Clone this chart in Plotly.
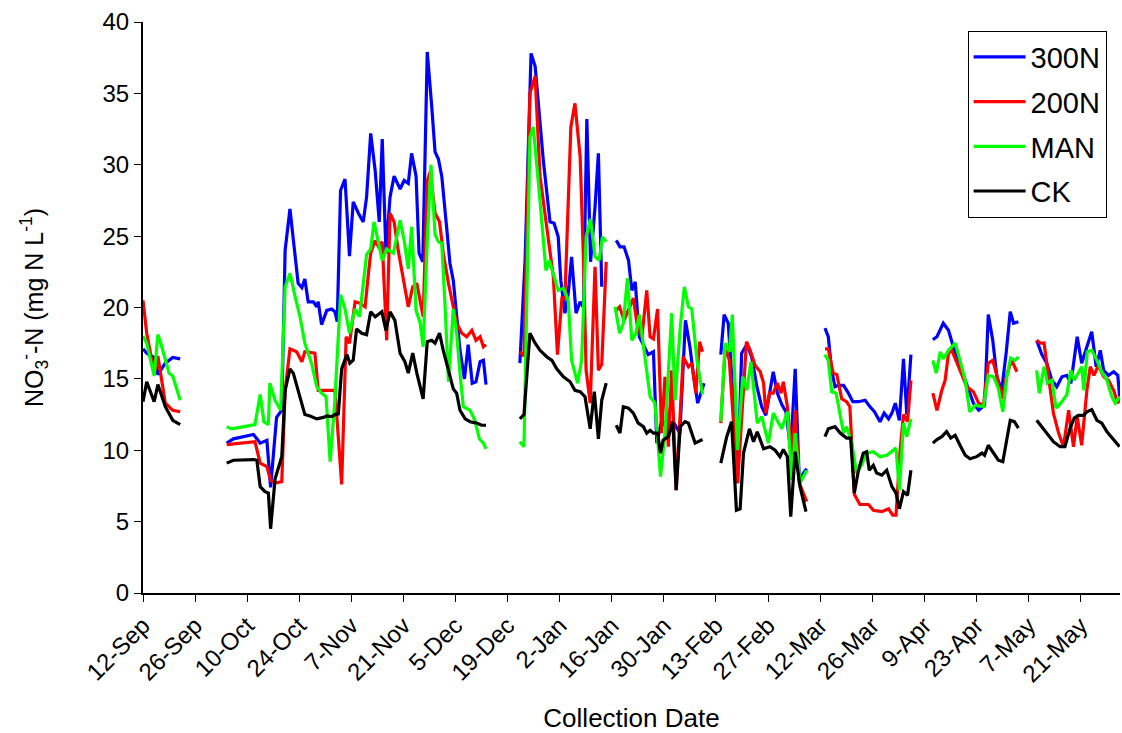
import plotly.graph_objects as go

# x values: days after 12-Sep (start of season); None marks a gap between sampling periods
tick_days = [0, 14, 28, 42, 56, 70, 84, 98, 112, 126, 140, 154, 168, 182, 196, 210, 224, 238, 252]
tick_labels = ["12-Sep", "26-Sep", "10-Oct", "24-Oct", "7-Nov", "21-Nov", "5-Dec", "19-Dec",
               "2-Jan", "16-Jan", "30-Jan", "13-Feb", "27-Feb", "12-Mar", "26-Mar", "9-Apr",
               "23-Apr", "7-May", "21-May"]

n300_x = [0, 1, 3, 4, 6, 8, 10, None,
          22.5, 24.3, 29.7, 31.5, 33.3, 34.3, 35.9, 37.3, 38.2, 39.5, 41.7, 42.7, 43.5, 44.4, 45.8, 46.7, 47.1, 48.0,
          49.4, 50.7, 51.6, 52.2, 53.1, 54.3, 55.5, 56.5, 57.9, 59.2, 60.1, 61.2, 62.4, 63.5, 64.3, 65.3, 66.4, 67.5,
          69.1, 70.2, 71.3, 72.2, 73.4, 74.2, 75.2, 76.4, 77.6, 78.5, 79.4, 80.3, 81.6, 82.5, 83.4, 84.3, 85.2, 86.4,
          87.4, 88.5, 89.5, 90.6, 91.5, 92.2, None,
          101.3, 102.7, 104.3, 105.4, 107.6, 109.4, 110.5, 111.6, 112.3, 113.4, 114.3, 115.2, 116.4, 117.5, 118.4,
          119.3, 120.3, 121.5, 122.4, 123.3, None,
          127.2, 128.2, 129.3, 130.5, 131.4, 132.3, 133.4, 135.8, 137.2, 138.1, 139.4, 141.0, 142.5, 144.3, 145.8,
          147.0, 147.9, 149.1, 150.8, None,
          155.3, 156.2, 157.3, 158.6, 159.8, 160.9, 162.3, 163.6, 165.0, 166.3, 167.4, 168.5, 169.4, 170.5, 171.7,
          172.8, 174.1, 175.3, 176.4, 177.5, 178.4, None,
          183.3, 184.2, 185.1, 186.0, 186.9, 188.3, 189.6, 190.8, 192.3, 194.1, 195.4, 196.6, 198.1, 199.2, 200.4,
          201.3, 202.2, 203.3, 204.4, 205.3, 206.4, None,
          212.3, 213.4, 215.1, 216.5, 217.8, 219.2, 221.0, 222.3, 223.2, 224.6, 226.2, 227.2, 228.4, 229.5, 230.8,
          232.0, 233.1, 234.0, 235.3, None,
          240.2, 241.6, 242.9, 244.3, 245.6, 247.0, 248.3, 249.4, 251.1, 252.3, 253.7, 255.0, 256.2, 257.3, 258.2,
          259.5, 260.9, 262.0, 262.5]
n300_y = [17.1, 16.8, 16.5, 15.3, 16.1, 16.5, 16.4, None,
          10.5, 10.8, 11.1, 10.5, 10.7, 7.4, 12.3, 12.8, 24.0, 26.9, 21.7, 21.4, 22.0, 20.4, 20.4, 20.05, 20.4, 18.8,
          19.8, 19.9, 19.7, 19.0, 28.2, 29.0, 23.6, 27.4, 26.6, 26.0, 27.75, 32.2, 29.6, 26.0, 31.8, 23.8, 27.75, 29.2,
          28.3, 28.9, 28.7, 30.8, 29.2, 23.8, 23.2, 37.9, 34.1, 30.9, 30.4, 29.2, 25.65, 23.1, 21.9, 19.6, 17.0, 15.0,
          17.4, 14.7, 14.8, 16.2, 16.3, 14.6, None,
          16.1, 23.3, 37.8, 36.9, 30.3, 26.0, 25.9, 24.95, 21.9, 19.6, 21.0, 23.55, 19.6, 20.4, 20.0,
          33.2, 23.2, 27.05, 30.8, 21.45, None,
          24.7, 24.25, 24.25, 23.3, 21.2, 21.8, 17.95, 16.7, 16.9, 10.5, 12.1, 11.5, 12.0, 11.2, 19.1,
          17.25, 15.4, 13.3, 14.7, None,
          16.7, 19.5, 18.9, 13.75, 7.7, 16.8, 17.4, 16.55, 14.45, 13.05, 12.45, 14.2, 15.5, 14.0, 13.2,
          12.7, 10.0, 15.7, 7.9, 8.4, 8.7, None,
          18.55, 17.95, 15.6, 14.45, 14.55, 14.55, 14.0, 13.4, 13.4, 13.5, 13.05, 12.7, 12.0, 12.6, 12.2,
          12.6, 13.3, 12.1, 16.4, 12.5, 16.7, None,
          17.75, 17.95, 18.9, 18.4, 17.25, 16.1, 14.9, 14.0, 13.3, 12.8, 13.15, 19.5, 17.7, 15.15, 14.2,
          16.8, 19.7, 18.9, 19.0, None,
          17.7, 16.7, 16.1, 14.9, 14.45, 15.15, 15.25, 14.7, 17.95, 16.1, 17.25, 18.3, 15.85, 17.0, 15.6,
          15.25, 15.5, 15.25, 13.75]

n200_x = [0, 1, 3, 4, 6, 8, 10, None,
          22.5, 26.1, 30.1, 31.5, 33.3, 34.3, 35.5, 37.3, 38.2, 39.5, 41.3, 42.7, 43.5, 46.2, 47.1, 48.5, 51.6, 53.4,
          54.6, 55.5, 57.0, 58.3, 59.7, 60.6, 61.2, 62.4, 63.3, 64.3, 65.5, 66.4, 67.5, 68.6, 70.0, 71.3, 72.5, 73.6,
          75.3, 76.4, 77.2, 78.5, 79.7, 80.7, 82.1, 83.4, 84.3, 85.7, 87.0, 88.4, 89.5, 90.6, 91.5, 92.2, None,
          101.3, 102.4, 104.0, 105.4, 106.7, 108.5, 110.3, 111.4, 112.6, 113.4, 115.0, 116.1, 117.5, 118.4, 119.1,
          120.2, 121.5, 122.4, 123.3, 124.5, None,
          126.9, 128.1, 129.3, 131.8, 132.9, 134.1, 135.4, 136.3, 137.2, 138.3, 139.4, 140.3, 141.2, 142.1, 143.3,
          144.4, 145.2, 146.6, 147.5, 148.6, 149.6, 150.4, None,
          155.3, 156.5, 157.6, 159.8, 160.5, 162.2, 163.2, 164.5, 165.9, 166.8, 167.4, 168.4, 169.4, 170.5, 171.5,
          172.1, 173.2, 174.4, 175.3, 176.4, 178.4, None,
          183.3, 184.2, 185.5, 186.5, 187.8, 189.1, 190.0, 191.2, 192.7, 195.0, 196.3, 198.6, 200.4, 201.5, 202.4,
          203.5, 204.4, 205.5, 206.4, None,
          212.3, 213.4, 214.7, 215.6, 216.5, 217.4, 219.2, 221.4, 223.2, 224.6, 225.9, 227.2, 228.4, 229.5, 230.8,
          232.3, 233.5, 234.9, None,
          240.2, 241.3, 242.2, 243.4, 244.7, 246.1, 247.4, 248.8, 250.1, 251.1, 252.3, 253.7, 254.6, 255.6, 256.8,
          258.2, 259.5, 260.9, 262.0, 262.5]
n200_y = [20.5, 18.2, 15.4, 16.6, 13.3, 12.8, 12.7, None,
          10.4, 10.5, 10.6, 9.1, 8.85, 7.9, 7.7, 7.8, 14.2, 17.1, 16.9, 16.2, 16.9, 16.8, 14.2, 14.2, 14.2, 7.6,
          17.95, 17.5, 20.4, 20.3, 20.05, 22.4, 23.8, 24.7, 24.25, 24.6, 17.7, 26.6, 26.0, 24.0, 21.9, 20.05, 21.45, 21.7,
          19.35, 28.9, 29.5, 26.6, 26.0, 23.8, 21.7, 20.05, 18.9, 18.2, 17.95, 18.4, 17.7, 17.95, 17.25, 17.4, None,
          16.9, 16.6, 35.0, 36.2, 29.2, 25.65, 22.15, 16.7, 20.65, 20.65, 32.65, 34.3, 30.55, 23.3, 15.6,
          13.3, 22.85, 15.6, 16.0, 23.2, None,
          19.7, 20.05, 19.1, 20.65, 18.65, 17.95, 21.2, 17.95, 17.8, 19.9, 11.2, 15.15, 10.25, 15.6, 7.2,
          13.05, 16.55, 15.85, 16.1, 14.0, 17.6, 16.9, None,
          11.9, 17.25, 16.3, 7.7, 10.5, 17.6, 17.0, 15.95, 15.5, 14.7, 12.6, 14.0, 14.0, 14.7, 14.0,
          14.8, 13.05, 9.55, 12.8, 7.7, 6.4, None,
          17.1, 17.1, 15.4, 15.3, 13.6, 13.4, 13.05, 6.9, 6.2, 6.2, 5.8, 5.7, 5.9, 5.45, 5.45,
          10.0, 12.5, 12.0, 14.9, None,
          14.0, 12.8, 14.2, 14.9, 16.8, 17.0, 15.85, 14.45, 14.1, 13.3, 13.15, 16.1, 16.3, 15.25, 13.6,
          15.4, 16.3, 15.5, None,
          17.7, 17.5, 17.5, 15.15, 12.6, 11.2, 10.25, 12.8, 10.25, 12.35, 10.35, 14.2, 15.85, 15.25, 15.95,
          15.15, 14.9, 14.2, 13.3, 13.6]

man_x = [0, 1, 3, 4, 5, 7, 8, 10, None,
         22.5, 23.8, 26.1, 30.1, 31.5, 32.5, 33.7, 34.1, 35.5, 37.0, 38.2, 39.5, 40.9, 42.2, 43.5, 45.3, 46.7, 48.0,
         49.2, 50.3, 51.6, 53.1, 54.3, 55.5, 57.0, 58.2, 60.1, 61.2, 62.1, 63.3, 64.3, 65.5, 67.3, 69.1, 70.2, 71.3,
         72.2, 73.4, 74.5, 75.3, 76.4, 77.4, 78.5, 79.4, 80.3, 81.2, 82.1, 83.4, 84.3, 85.2, 86.1, 87.9, 89.2, 90.4,
         91.5, 92.2, None,
         101.3, 102.4, 104.0, 104.9, 106.7, 108.3, 109.2, 111.6, 113.0, 114.3, 115.2, 116.8, 117.9, 119.1, 120.3,
         121.5, 122.6, 123.5, 124.5, None,
         126.9, 128.1, 129.1, 130.2, 131.4, 132.5, 133.4, 136.3, 137.6, 139.1, 140.3, 141.2, 142.1, 143.0, 144.4,
         145.5, 146.6, 147.5, 148.9, 150.4, None,
         155.3, 156.5, 157.6, 158.4, 159.8, 161.2, 162.3, 163.4, 165.1, 166.3, 168.1, 169.4, 171.7, 173.2, 174.4,
         175.3, 176.6, 178.4, None,
         183.3, 184.2, 185.1, 186.3, 188.3, 189.1, 190.5, 191.8, 193.1, 194.5, 196.3, 198.1, 199.9, 201.3, 202.4,
         203.3, 204.4, 205.3, 206.4, None,
         212.3, 213.2, 214.3, 215.1, 216.5, 218.3, 219.6, 221.0, 222.2, 223.7, 225.9, 227.2, 228.6, 229.9, 231.1,
         232.2, 233.2, 234.4, 235.3, None,
         240.2, 240.9, 242.2, 243.1, 244.3, 245.4, 246.7, 248.3, 249.4, 250.3, 252.3, 252.9, 253.8, 255.0, 256.4,
         257.7, 259.1, 260.4, 261.3, 262.5]
man_y = [18.0, 17.5, 15.2, 18.1, 17.3, 15.4, 15.2, 13.5, None,
         11.65, 11.5, 11.6, 11.8, 13.9, 12.0, 11.8, 14.7, 13.5, 12.8, 21.45, 22.4, 20.75, 19.35, 17.5, 16.1, 14.45, 14.0,
         13.75, 9.2, 13.6, 20.9, 19.9, 18.2, 19.9, 19.35, 23.7, 24.1, 26.0, 24.5, 23.3, 24.1, 23.8, 26.1, 24.7, 22.7,
         25.65, 19.8, 18.9, 17.25, 24.7, 30.0, 25.1, 24.6, 24.5, 20.05, 14.8, 19.9, 18.2, 15.4, 13.05, 12.8, 12.1, 10.8,
         10.5, 10.1, None,
         10.6, 10.25, 31.95, 32.65, 27.5, 22.6, 23.3, 21.2, 21.35, 20.5, 16.3, 14.7, 16.3, 24.95, 26.2,
         23.55, 23.3, 24.95, 24.6, None,
         20.05, 18.2, 18.9, 22.05, 17.7, 18.2, 19.5, 13.75, 13.3, 8.15, 11.2, 15.4, 19.6, 13.5, 18.65,
         21.45, 20.05, 19.9, 16.3, 13.9, None,
         12.0, 17.5, 16.9, 19.5, 10.0, 15.15, 14.2, 16.2, 11.9, 12.35, 10.5, 12.6, 11.5, 12.7, 7.9,
         11.2, 7.7, 8.6, None,
         16.7, 16.3, 14.1, 14.0, 11.2, 11.65, 10.5, 8.4, 8.95, 9.8, 9.9, 9.55, 9.65, 9.9, 10.15,
         7.2, 11.9, 10.95, 12.2, None,
         16.3, 15.4, 16.9, 16.4, 17.0, 17.5, 16.3, 14.9, 12.7, 13.15, 13.05, 15.25, 15.15, 14.35, 12.7,
         15.15, 16.45, 16.3, 16.55, None,
         15.6, 14.0, 15.85, 14.7, 14.9, 12.95, 13.3, 13.9, 15.6, 14.9, 15.85, 14.2, 16.9, 17.0, 16.3,
         15.5, 14.9, 13.75, 13.3, 13.75]

ck_x = [0, 1, 3, 4, 6, 8, 10, None,
        22.5, 24.3, 29.7, 30.6, 31.5, 32.8, 33.7, 34.3, 35.5, 37.3, 38.2, 39.5, 40.4, 42.2, 43.5, 44.9, 46.7, 48.5,
        49.4, 50.7, 51.6, 52.5, 53.4, 54.8, 55.6, 56.5, 57.4, 58.8, 60.1, 61.2, 62.4, 64.2, 65.3, 66.4, 67.7, 69.1,
        70.4, 71.3, 72.5, 73.6, 75.3, 76.4, 77.6, 78.5, 79.7, 80.7, 82.1, 83.4, 84.3, 85.2, 86.6, 87.9, 89.7, 91.0,
        92.2, None,
        101.3, 102.4, 104.0, 105.4, 106.7, 108.5, 109.9, 111.2, 113.0, 114.8, 116.1, 117.5, 118.8, 120.2, 121.3,
        122.4, 123.3, 124.5, None,
        127.2, 128.2, 129.1, 130.5, 131.8, 133.1, 134.5, 135.4, 136.3, 137.2, 138.3, 139.1, 139.8, 141.2, 142.4,
        143.3, 144.4, 145.7, 146.6, 148.4, 150.4, None,
        155.3, 156.9, 158.2, 159.5, 160.5, 161.4, 163.0, 164.1, 165.1, 166.8, 168.5, 169.9, 171.2, 172.1, 173.2,
        174.1, 175.3, 176.6, 178.2, None,
        183.3, 184.2, 186.0, 187.4, 189.1, 190.2, 191.2, 192.3, 193.6, 194.5, 195.2, 196.3, 197.2, 198.6, 199.9,
        201.3, 202.4, 203.3, 204.4, 205.5, 206.4, None,
        212.3, 213.4, 214.7, 216.0, 217.1, 218.3, 219.6, 221.0, 222.3, 224.1, 225.5, 226.2, 227.2, 228.4, 229.9,
        231.1, 232.2, 233.1, 234.2, 235.3, None,
        240.2, 241.6, 242.9, 244.7, 246.5, 247.8, 249.2, 250.3, 251.4, 252.8, 253.7, 255.0, 256.4, 257.7, 259.1,
        260.9, 262.5]
ck_y = [13.4, 14.8, 13.4, 14.6, 13.05, 12.1, 11.8, None,
        9.1, 9.3, 9.35, 9.3, 7.45, 7.1, 7.0, 4.5, 8.0, 9.55, 14.2, 15.7, 15.4, 13.75, 12.5, 12.4, 12.2, 12.3,
        12.4, 12.35, 12.5, 12.55, 15.7, 16.7, 16.1, 16.3, 18.5, 18.2, 18.1, 19.7, 19.35, 19.7, 18.4, 19.7, 19.1, 16.8,
        16.2, 15.4, 16.8, 15.4, 13.6, 17.6, 17.7, 17.5, 18.2, 17.0, 15.7, 14.3, 14.0, 12.8, 12.2, 12.0, 11.9, 11.75,
        11.75, None,
        12.2, 12.5, 18.2, 17.5, 17.0, 16.55, 16.3, 15.7, 15.15, 14.8, 14.2, 14.1, 13.75, 11.5, 14.1,
        10.8, 13.5, 14.7, None,
        11.75, 11.2, 13.05, 12.95, 12.6, 11.9, 11.65, 11.2, 11.4, 11.2, 11.2, 9.8, 10.7, 10.95, 12.0,
        7.2, 11.65, 12.0, 11.9, 10.5, 10.75, None,
        9.1, 10.95, 12.0, 5.8, 5.9, 9.8, 11.5, 10.6, 11.3, 10.1, 10.25, 10.0, 9.55, 10.05, 9.55,
        5.35, 9.9, 7.45, 5.7, None,
        10.95, 11.5, 11.65, 11.2, 10.85, 10.85, 7.0, 8.6, 9.8, 9.9, 8.6, 8.95, 8.4, 8.25, 8.6,
        7.45, 7.0, 5.9, 7.1, 6.85, 8.6, None,
        10.5, 10.75, 10.95, 11.3, 10.85, 11.05, 10.35, 9.65, 9.4, 9.55, 9.8, 9.65, 10.35, 9.9, 9.3,
        9.2, 10.95, 12.1, 12.0, 11.55, None,
        12.1, 11.65, 11.2, 10.6, 10.25, 10.25, 11.55, 12.25, 12.45, 12.45, 12.7, 12.85, 12.1, 11.9, 11.3,
        10.7, 10.25]

series = [
    ("300N", n300_x, n300_y, "#0000FF"),
    ("200N", n200_x, n200_y, "#FF0000"),
    ("MAN", man_x, man_y, "#00FF00"),
    ("CK", ck_x, ck_y, "#000000"),
]

fig = go.Figure()
for name, xs, ys, color in series:
    fig.add_trace(go.Scatter(
        x=xs, y=ys, name=name, mode="lines", legendgroup=name,
        line=dict(color=color, width=3.2), connectgaps=False,
    ))

FONT = "Liberation Sans, Arial, sans-serif"

fig.update_layout(
    width=1122, height=733,
    margin=dict(l=143, r=2, t=22, b=140),
    paper_bgcolor="white", plot_bgcolor="white",
    font=dict(family=FONT, color="black"),
    showlegend=True,
    legend=dict(
        x=0.844, y=0.985, xanchor="left", yanchor="top",
        bgcolor="white", bordercolor="black", borderwidth=1,
        font=dict(size=29, color="black", family=FONT), tracegroupgap=4,
        itemwidth=52,
    ),
    xaxis=dict(
        range=[0, 262.6], showgrid=False, zeroline=False,
        showline=True, linecolor="black", linewidth=2,
        ticks="outside", ticklen=7, tickwidth=1, tickcolor="black",
        tickmode="array", tickvals=tick_days, ticktext=tick_labels,
        tickangle=-45, tickfont=dict(size=24, family=FONT),
        title=dict(text="Collection Date", font=dict(size=26, family=FONT), standoff=22),
    ),
    yaxis=dict(
        range=[0, 40], showgrid=False, zeroline=False,
        showline=True, linecolor="black", linewidth=2,
        ticks="outside", ticklen=7, tickwidth=1, tickcolor="black",
        tickmode="array", tickvals=[0, 5, 10, 15, 20, 25, 30, 35, 40],
        tickfont=dict(size=24, family=FONT),
        title=dict(text="NO<sub>3</sub><sup>-</sup>-N (mg N L<sup>-1</sup>)", font=dict(size=25, family=FONT), standoff=52),
    ),
)

fig.write_html("out.html")
